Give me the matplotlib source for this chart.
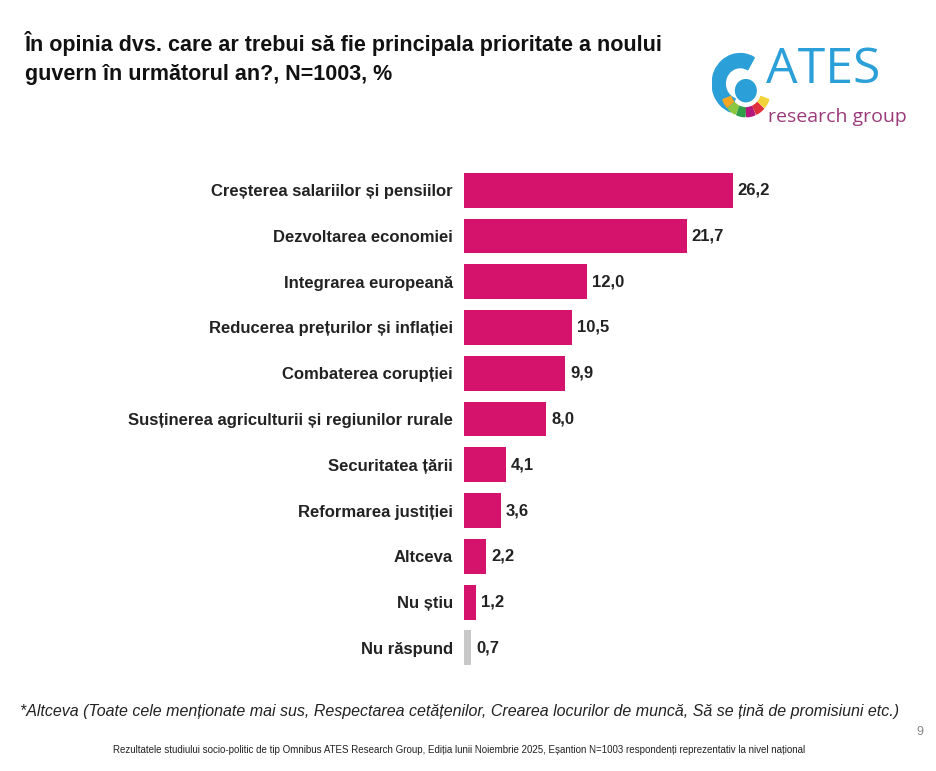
import matplotlib.pyplot as plt
from matplotlib.patches import Wedge

categories = [
    "Creșterea salariilor și pensiilor",
    "Dezvoltarea economiei",
    "Integrarea europeană",
    "Reducerea prețurilor și inflației",
    "Combaterea corupției",
    "Susținerea agriculturii și regiunilor rurale",
    "Securitatea țării",
    "Reformarea justiției",
    "Altceva",
    "Nu știu",
    "Nu răspund",
]
values = [26.2, 21.7, 12.0, 10.5, 9.9, 8.0, 4.1, 3.6, 2.2, 1.2, 0.7]
colors = ["#D6136C"] * 10 + ["#C8C8C8"]

plt.rcParams['font.family'] = ['Liberation Sans', 'DejaVu Sans']
fig = plt.figure(figsize=(9.37, 7.71), dpi=100)
ax = fig.add_axes([0.495, 0.13, 0.46, 0.653])

y = range(len(categories))
ax.barh(y, values, height=0.76, color=colors)
ax.set_ylim(len(categories) - 0.5, -0.5)
ax.set_xlim(0, 42)
ax.set_yticks(list(y))
ax.set_yticklabels(categories, fontsize=12, fontweight="bold", color="#222222")
ax.tick_params(axis="y", length=0, pad=8)
ax.set_xticks([])
for s in ax.spines.values():
    s.set_visible(False)
for i, v in enumerate(values):
    ax.text(v + 0.5, i, f"{v:.1f}".replace(".", ","), va="center", ha="left",
            fontsize=12, fontweight="bold", color="#222222")

fig.text(0.027, 0.925, "În opinia dvs. care ar trebui să fie principala prioritate a noului\n"
         "guvern în următorul an?, N=1003, %", fontsize=15.5, fontweight="bold",
         va="center", ha="left", color="#111111", linespacing=1.5)

# logo
lax = fig.add_axes([0.76, 0.82, 0.2, 0.13])
lax.set_xlim(0, 200)
lax.set_ylim(0, 100)
lax.axis("off")
lax.add_patch(Wedge((30, 55), 30, 60, 250, width=14, color="#2A9FD8"))
lax.add_patch(plt.Circle((36, 48), 11, color="#2A9FD8"))
seg_cols = ["#F5A623", "#8DC63F", "#2E9E48", "#B5177A", "#E0303C", "#F2D23A"]
for k, c in enumerate(seg_cols):
    a0 = 200 + k * 24
    lax.add_patch(Wedge((36, 48), 26, a0, a0 + 20, width=9, color=c))
lax.text(58, 68, "ATES", fontsize=36, color="#2A9FD8", family="Open Sans", va="center")
lax.text(60, 22, "research group", fontsize=14, color="#9B3A7A", family="Open Sans", va="center")

fig.text(0.49, 0.077, "*Altceva (Toate cele menționate mai sus, Respectarea cetățenilor, Crearea locurilor de muncă, "
         "Să se țină de promisiuni etc.)", fontsize=11.5, style="italic", ha="center", va="center",
         color="#222222")
fig.text(0.49, 0.027, "Rezultatele studiului socio-politic de tip Omnibus ATES Research Group, Ediția lunii Noiembrie 2025, "
         "Eșantion N=1003 respondenți reprezentativ la nivel național", fontsize=7, ha="center",
         va="center", color="#222222")
fig.text(0.985, 0.047, "9", fontsize=9, color="#888888", ha="right")

fig.savefig("out.png", dpi=100)
